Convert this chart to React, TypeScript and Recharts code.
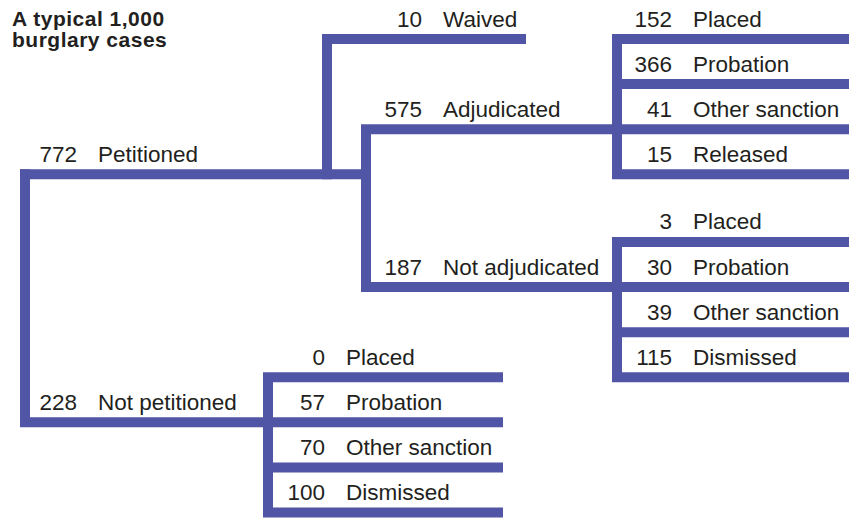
import { Scatter, ScatterChart, XAxis, YAxis } from "recharts";

// outcomes of a typical 1,000 burglary cases
const rootLabels = ["Petitioned", "Not petitioned"];
const rootCounts = [772, 228];
const petitionedLabels = ["Waived", "Adjudicated", "Not adjudicated"];
const petitionedCounts = [10, 575, 187];
const adjudicatedLabels = ["Placed", "Probation", "Other sanction", "Released"];
const adjudicatedCounts = [152, 366, 41, 15];
const notAdjudicatedLabels = ["Placed", "Probation", "Other sanction", "Dismissed"];
const notAdjudicatedCounts = [3, 30, 39, 115];
const notPetitionedLabels = ["Placed", "Probation", "Other sanction", "Dismissed"];
const notPetitionedCounts = [0, 57, 70, 100];

const W = 849;
const H = 518;
const LINE = "#5155a5";
const INK = "#231f20";
const FONT = '"Liberation Sans", Arial, Helvetica, sans-serif';

// layout: x runs in px along the x scale, y in row units along the y scale
const ROW_TOP = 39;
const ROW_STEP = 45.1;
const yDomain = [-ROW_TOP / ROW_STEP, (H - ROW_TOP) / ROW_STEP];

interface Branch {
  label: string;
  count: number;
  row: number;
  fromX: number;
  fromRow: number;
  toX: number;
  textX: number;
}

function group(
  labels: string[],
  counts: number[],
  rows: number[],
  fromX: number[],
  fromRow: number,
  toX: number,
  textX: number
): Branch[] {
  return labels.map((label, i) => ({
    label,
    count: counts[i],
    row: rows[i],
    fromX: fromX[i] ?? fromX[0],
    fromRow,
    toX,
    textX,
  }));
}

const branches: Branch[] = [
  ...group(rootLabels, rootCounts, [3, 8.5], [25], 3, 366, 77).map((b, i) =>
    i === 1 ? { ...b, toX: 268 } : b
  ),
  ...group(petitionedLabels, petitionedCounts, [0, 2, 5.5], [327, 366, 366], 3, 617, 422).map(
    (b, i) => (i === 0 ? { ...b, toX: 521 } : b)
  ),
  ...group(adjudicatedLabels, adjudicatedCounts, [0, 1, 2, 3], [617], 2, W, 672),
  ...group(notAdjudicatedLabels, notAdjudicatedCounts, [4.5, 5.5, 6.5, 7.5], [617], 5.5, W, 672),
  ...group(notPetitionedLabels, notPetitionedCounts, [7.5, 8.5, 9.5, 10.5], [268], 8.5, 498, 325),
];

const labelPoints = branches.map((b) => ({ x: b.textX, y: b.row, count: b.count, label: b.label }));

const NoDot = () => <g />;

function BranchLabel(props: any) {
  const { cx, cy, payload } = props;
  if (cx == null || cy == null) return <g />;
  return (
    <g fontFamily={FONT} fontSize={22.5} fill={INK}>
      <text x={cx} y={cy - 12.5} textAnchor="end">
        {payload.count}
      </text>
      <text x={cx + 21} y={cy - 12.5} textAnchor="start">
        {payload.label}
      </text>
    </g>
  );
}

export default function App() {
  return (
    <div style={{ position: "absolute", left: 0, top: 0, width: W, height: H, background: "#fff" }}>
      <ScatterChart width={W} height={H} margin={{ top: 0, right: 0, bottom: 0, left: 0 }}>
        <XAxis type="number" dataKey="x" domain={[0, W]} hide />
        <YAxis type="number" dataKey="y" domain={yDomain} reversed hide />
        {branches.map((b, i) => (
          <Scatter
            key={i}
            data={[
              { x: b.fromX, y: b.fromRow },
              { x: b.fromX, y: b.row },
              { x: b.toX, y: b.row },
            ]}
            line={{ stroke: LINE, strokeWidth: 10, strokeLinecap: "square", strokeLinejoin: "miter" }}
            shape={NoDot}
            isAnimationActive={false}
          />
        ))}
        <Scatter data={labelPoints} shape={BranchLabel} isAnimationActive={false} />
      </ScatterChart>
      <div
        style={{
          position: "absolute",
          left: 12,
          top: 8,
          fontFamily: FONT,
          fontWeight: "bold",
          fontSize: 21,
          letterSpacing: 0.5,
          lineHeight: "21px",
          color: INK,
        }}
      >
        A typical 1,000
        <br />
        burglary cases
      </div>
    </div>
  );
}
